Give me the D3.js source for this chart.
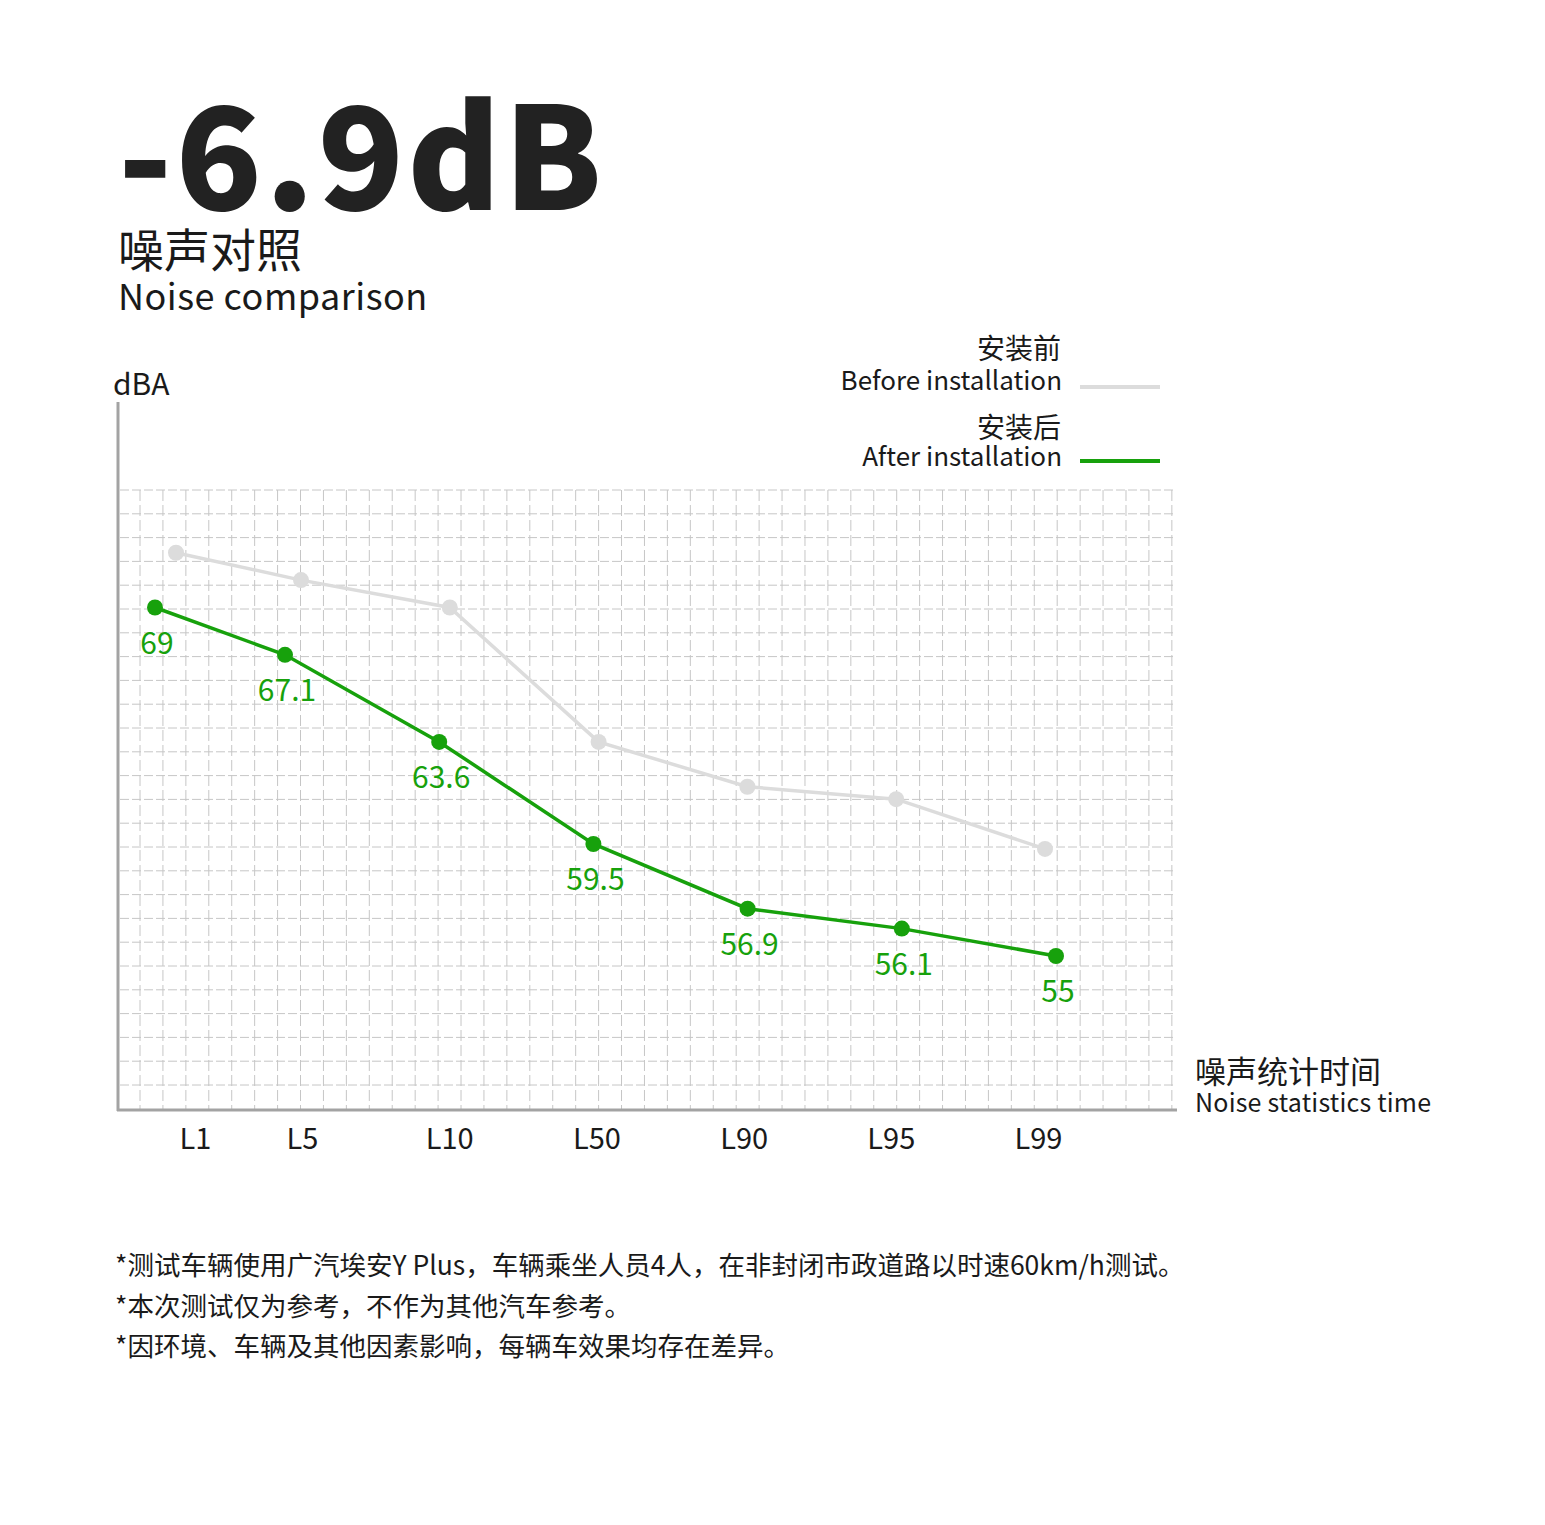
<!DOCTYPE html>
<html>
<head>
<meta charset="utf-8">
<script src="https://cdn.jsdelivr.net/npm/d3@7"></script>
<style>
  body { margin: 0; background: #fff; }
  svg { display: block; font-family: "Noto Sans CJK SC", "Noto Sans", sans-serif; }
</style>
</head>
<body>
<svg id="chart" width="1545" height="1525"></svg>
<script>
// noise levels, dBA
const categories = ['L1', 'L5', 'L10', 'L50', 'L90', 'L95', 'L99']
const before = [71.2, 70.1, 69.0, 63.6, 61.8, 61.3, 59.3]
const after = [69, 67.1, 63.6, 59.5, 56.9, 56.1, 55]
const notes = [
    '*测试车辆使用广汽埃安Y Plus，车辆乘坐人员4人，在非封闭市政道路以时速60km/h测试。',
    '*本次测试仅为参考，不作为其他汽车参考。',
    '*因环境、车辆及其他因素影响，每辆车效果均存在差异。'
]

const colours = { before: '#dcdcdc', after: '#17a10c', text: '#1a1a1a', grid: '#c6c6c6', axis: '#a3a3a3' }

const svg = d3.select('#chart')

const yScale = d3.scaleLinear().domain([55, 69]).range([956, 607.5])
// first step (L1 -> L5) is drawn shorter than the rest
const last = categories.length - 1
const xAfter = d3.scaleLinear().domain([0, 1, last]).range([155, 285, 1056])
const xBefore = d3.scaleLinear().domain([0, 1, last]).range([176, 301, 1045])
const xLabel = d3.scaleLinear().domain([0, 1, last]).range([195, 302, 1038])

// title block
svg.append('text')
    .attr('x', 118).attr('y', 210)
    .attr('font-size', 142).attr('font-weight', 900)
    .attr('letter-spacing', 3)
    .attr('fill', '#222')
    .text('-6.9dB')
svg.append('text')
    .attr('x', 118).attr('y', 267)
    .attr('font-size', 46).attr('fill', colours.text)
    .text('噪声对照')
svg.append('text')
    .attr('x', 118).attr('y', 310)
    .attr('font-size', 36).attr('letter-spacing', 0.5).attr('fill', colours.text)
    .text('Noise comparison')

// grid
const grid = svg.append('g').attr('stroke', colours.grid).attr('stroke-width', 1)
grid.selectAll('line.h')
    .data(d3.range(26).map(i => 490 + i * 23.8))
    .join('line')
    .attr('class', 'h')
    .attr('x1', 120).attr('x2', 1174)
    .attr('y1', d => d).attr('y2', d => d)
    .attr('stroke-dasharray', '9 3')
grid.selectAll('line.v')
    .data(d3.range(46).map(i => 140 + i * 22.93))
    .join('line')
    .attr('class', 'v')
    .attr('y1', 490).attr('y2', 1110)
    .attr('x1', d => d).attr('x2', d => d)
    .attr('stroke-dasharray', '11 4')

// axes
svg.append('line')
    .attr('x1', 118).attr('x2', 118).attr('y1', 402).attr('y2', 1111)
    .attr('stroke', colours.axis).attr('stroke-width', 3)
svg.append('line')
    .attr('x1', 117).attr('x2', 1177).attr('y1', 1110).attr('y2', 1110)
    .attr('stroke', colours.axis).attr('stroke-width', 3)

const xAxis = svg.append('g')
    .attr('transform', 'translate(0,1110)')
    .call(d3.axisBottom(xLabel)
        .tickValues(d3.range(categories.length))
        .tickFormat(i => categories[i])
        .tickSize(0).tickPadding(18))
xAxis.select('.domain').remove()
xAxis.selectAll('text')
    .attr('font-size', 29).attr('fill', colours.text)
    .attr('font-family', '"Noto Sans CJK SC", sans-serif')

svg.append('text')
    .attr('x', 113).attr('y', 395)
    .attr('font-size', 30).attr('fill', colours.text)
    .text('dBA')

svg.append('text')
    .attr('x', 1195).attr('y', 1083)
    .attr('font-size', 31).attr('fill', colours.text)
    .text('噪声统计时间')
svg.append('text')
    .attr('x', 1195).attr('y', 1112)
    .attr('font-size', 25).attr('letter-spacing', 0.2).attr('fill', colours.text)
    .text('Noise statistics time')

// series
const line = (xs) => d3.line()
    .x((d, i) => xs(i))
    .y(d => yScale(d))

svg.append('path')
    .datum(before)
    .attr('d', line(xBefore))
    .attr('fill', 'none')
    .attr('stroke', colours.before)
    .attr('stroke-width', 3.5)
svg.selectAll('circle.before')
    .data(before)
    .join('circle')
    .attr('class', 'before')
    .attr('cx', (d, i) => xBefore(i))
    .attr('cy', d => yScale(d))
    .attr('r', 8)
    .attr('fill', colours.before)

svg.append('path')
    .datum(after)
    .attr('d', line(xAfter))
    .attr('fill', 'none')
    .attr('stroke', colours.after)
    .attr('stroke-width', 3.5)
svg.selectAll('circle.after')
    .data(after)
    .join('circle')
    .attr('class', 'after')
    .attr('cx', (d, i) => xAfter(i))
    .attr('cy', d => yScale(d))
    .attr('r', 8)
    .attr('fill', colours.after)
svg.selectAll('text.after')
    .data(after)
    .join('text')
    .attr('class', 'after')
    .attr('x', (d, i) => xAfter(i) + 2)
    .attr('y', d => yScale(d) + 46)
    .attr('text-anchor', 'middle')
    .attr('font-size', 30)
    .attr('fill', colours.after)
    .text(d => d)

// legend
const legend = [
    { zh: '安装前', en: 'Before installation', colour: colours.before, y: 387, zhDy: -28, enDy: 3 },
    { zh: '安装后', en: 'After installation', colour: colours.after, y: 461, zhDy: -23, enDy: 5 }
]
const lg = svg.selectAll('g.legend')
    .data(legend)
    .join('g')
    .attr('class', 'legend')
lg.append('text')
    .attr('x', 1061).attr('y', d => d.y + d.zhDy)
    .attr('text-anchor', 'end')
    .attr('font-size', 28).attr('fill', colours.text)
    .text(d => d.zh)
lg.append('text')
    .attr('x', 1062).attr('y', d => d.y + d.enDy)
    .attr('text-anchor', 'end')
    .attr('font-size', 26).attr('fill', colours.text)
    .text(d => d.en)
lg.append('line')
    .attr('x1', 1080).attr('x2', 1160)
    .attr('y1', d => d.y).attr('y2', d => d.y)
    .attr('stroke', d => d.colour)
    .attr('stroke-width', 4)

// footnotes
svg.selectAll('text.note')
    .data(notes)
    .join('text')
    .attr('class', 'note')
    .attr('x', 115)
    .attr('y', (d, i) => 1275 + i * 40.5)
    .attr('font-size', 26.5)
    .attr('fill', colours.text)
    .text(d => d)
</script>
</body>
</html>
